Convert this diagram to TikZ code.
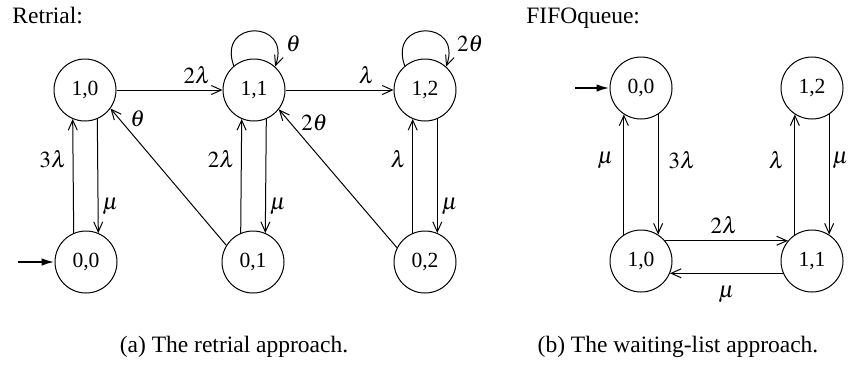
\documentclass[tikz,border=0pt]{standalone}
\usepackage{mathptmx}
\usepackage[no-math]{fontspec}
\setmainfont{Liberation Serif}
\usetikzlibrary{arrows.meta}
\begin{document}
\begin{tikzpicture}[x=0.5pt,y=-0.5pt,
  state/.style={circle, draw, line width=0.5pt, minimum size=31pt, inner sep=0pt,
                font=\fontsize{10.8}{13}\selectfont},
  trans/.style={line width=0.5pt, -{Straight Barb[length=5pt,width=4.5pt]}},
  lbl/.style={font=\fontsize{11.5}{14}\selectfont, inner sep=2pt},
  initarrow/.style={line width=1pt, -{Latex[length=6.5pt,width=3.8pt]}},
  txt/.style={font=\fontsize{11.75}{14}\selectfont, inner sep=0pt},
]
\useasboundingbox (0,0) rectangle (850,365);

% ---------- retrial model ----------
\node[txt, anchor=base west] (tl) at (12,23) {Retrial:};
\node[state] (n10) at (85,90)  {1,0};
\node[state] (n11) at (254,90) {1,1};
\node[state] (n12) at (425,90) {1,2};
\node[state] (n00) at (86,262) {0,0};
\node[state] (n01) at (253,262) {0,1};
\node[state] (n02) at (425,262) {0,2};

\coordinate (s1) at (18,262);
\draw[initarrow] (s1) -- (n00.west);

\draw[trans] (n00.113) -- node[lbl, pos=0.65, anchor=east, inner sep=3pt] {$3\lambda$} (n10.247);
\draw[trans] (n10.293) -- node[lbl, pos=0.77, anchor=west] {$\mu$} (n00.67);
\draw[trans] (n01.113) -- node[lbl, pos=0.65, anchor=east, inner sep=3pt] {$2\lambda$} (n11.247);
\draw[trans] (n11.293) -- node[lbl, pos=0.77, anchor=west] {$\mu$} (n01.67);
\draw[trans] (n02.113) -- node[lbl, pos=0.65, anchor=east, inner sep=3pt] {$\lambda$} (n12.247);
\draw[trans] (n12.293) -- node[lbl, pos=0.77, anchor=west] {$\mu$} (n02.67);

\draw[trans] (n10.east) -- node[lbl, pos=0.76, anchor=south, inner sep=3pt] {$2\lambda$} (n11.west);
\draw[trans] (n11.east) -- node[lbl, pos=0.75, anchor=south, inner sep=3pt] {$\lambda$} (n12.west);

\draw[trans] (n01.148) -- node[lbl, pos=0.85, anchor=south west, inner sep=1pt] {$\theta$} (n10.324);
\draw[trans] (n02.153) -- node[lbl, pos=0.83, anchor=south west, inner sep=1pt] {$2\theta$} (n11.322);

% self loops above the states (y axis points down, so angles are mirrored)
\draw[trans] (n11.130) .. controls +(250:50) and +(290:50) .. node[lbl, pos=0.8, anchor=west, inner sep=5pt] {$\theta$} (n11.48);
\draw[trans] (n12.130) .. controls +(250:50) and +(290:50) .. node[lbl, pos=0.8, anchor=west, inner sep=5pt] {$2\theta$} (n12.48);

\node[txt, anchor=base] (ca) at (234,352) {(a) The retrial approach.};

% ---------- waiting-list model ----------
\node[txt, anchor=base west] (tr) at (526,23) {FIFOqueue:};
\node[state] (r00) at (641,88)  {0,0};
\node[state] (r12) at (812,88)  {1,2};
\node[state] (r10) at (641,261) {1,0};
\node[state] (r11) at (812,261) {1,1};

\coordinate (s2) at (575,88);
\draw[initarrow] (s2) -- (r00.west);

\draw[trans] (r10.123) -- node[lbl, pos=0.62, anchor=east, inner sep=5pt] {$\mu$} (r00.237);
\draw[trans] (r00.303) -- node[lbl, pos=0.38, anchor=west, inner sep=5pt] {$3\lambda$} (r10.57);
\draw[trans] (r11.123) -- node[lbl, pos=0.62, anchor=east, inner sep=5pt] {$\lambda$} (r12.237);
\draw[trans] (r12.303) -- node[lbl, pos=0.38, anchor=west, inner sep=1.5pt] {$\mu$} (r11.57);

\draw[trans] (r10.40) -- node[lbl, pos=0.48, anchor=south, inner sep=3pt] {$2\lambda$} (r11.140);
\draw[trans] (r11.203) -- node[lbl, pos=0.5, anchor=north, inner sep=6pt] {$\mu$} (r10.337);

\node[txt, anchor=base] (cb) at (678,352) {(b) The waiting-list approach.};
\end{tikzpicture}
\end{document}
